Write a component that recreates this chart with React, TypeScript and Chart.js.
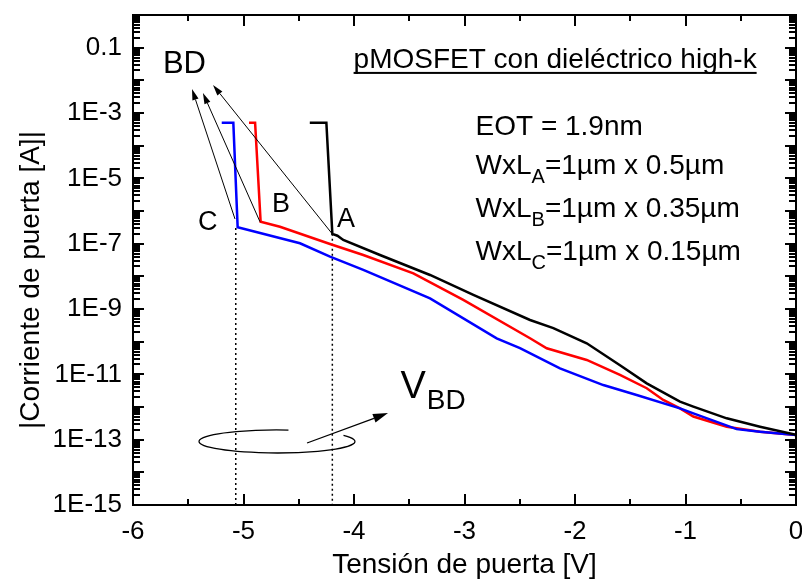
import { useEffect, useRef } from 'react';
import { Chart, registerables } from 'chart.js';

Chart.register(...registerables);

// ---- data (gate voltage [V], |gate current| [A]) ----
const blackV = [-4.40, -4.25, -4.196, -4.15, -4.097, -3.765, -3.312, -2.920, -2.407, -2.196, -1.894, -1.593, -1.351, -1.050, -0.929, -0.627, -0.326, 0];
const blackI = [5e-4, 5e-4, 2.0e-7, 1.75e-7, 1.3e-7, 4.5e-8, 1.1e-8, 2.7e-9, 4.6e-10, 2.6e-10, 8.9e-11, 1.9e-11, 5.3e-12, 1.46e-12, 1.03e-12, 4.5e-13, 2.5e-13, 1.4e-13];

const redV = [-4.95, -4.895, -4.845, -4.67, -4.217, -3.916, -3.463, -3.011, -2.407, -2.256, -1.894, -1.593, -1.351, -1.201, -1.050, -0.929, -0.627, -0.326, 0];
const redI = [5e-4, 5e-4, 4.7e-7, 3.3e-7, 9.8e-8, 4.5e-8, 1.24e-8, 1.9e-9, 1.27e-10, 6.3e-11, 2.75e-11, 9.6e-12, 3.75e-12, 1.64e-12, 9.1e-13, 5.1e-13, 2.5e-13, 1.76e-13, 1.4e-13];

const blueV = [-5.197, -5.092, -5.053, -4.489, -4.217, -3.916, -3.312, -2.709, -2.498, -2.136, -1.744, -1.442, -1.050, -0.929, -0.537, -0.326, 0];
const blueI = [5e-4, 5e-4, 3.2e-7, 1.03e-7, 4.0e-8, 1.57e-8, 2.1e-9, 1.27e-10, 6.3e-11, 1.53e-11, 4.7e-12, 2.34e-12, 9.1e-13, 6.4e-13, 2.1e-13, 1.76e-13, 1.4e-13];

// breakdown voltages (dotted markers)
const vbdV = [-5.07, -4.196];
const vbdI = [3.0e-7, 2.0e-7];

// axis ticks
const xTicks = [-6, -5, -4, -3, -2, -1, 0];
const xMinor = [-5.5, -4.5, -3.5, -2.5, -1.5, -0.5];
const yExps = [-15, -14, -13, -12, -11, -10, -9, -8, -7, -6, -5, -4, -3, -2, -1, 0];
const yMant = [1, 2, 3, 4, 5, 6, 7, 8, 9];

// annotation anchors (data coordinates)
const bdFromV = [-5.077, -4.851, -4.202];
const bdFromI = [5.7e-7, 4.7e-7, 2.1e-7];
const bdToV = [-5.466, -5.367, -5.276];
const bdToI = [5.4e-3, 4.1e-3, 7.2e-3];

const FONT = '"Liberation Sans", Arial, sans-serif';

const toXY = (v: number[], i: number[]) => v.map((x, k) => ({ x, y: i[k] }));

function yLabel(value: number) {
  const e = Math.round(Math.log10(value));
  if (e % 2 === 0) return '';
  if (e === -1) return '0.1';
  return '1E' + e;
}

function arrow(ctx: CanvasRenderingContext2D, x0: number, y0: number, x1: number, y1: number, L: number, W: number, lw: number) {
  const a = Math.atan2(y1 - y0, x1 - x0);
  const bx = x1 - L * Math.cos(a);
  const by = y1 - L * Math.sin(a);
  ctx.lineWidth = lw;
  ctx.beginPath();
  ctx.moveTo(x0, y0);
  ctx.lineTo(bx, by);
  ctx.stroke();
  ctx.beginPath();
  ctx.moveTo(x1, y1);
  ctx.lineTo(bx + W * Math.sin(a), by - W * Math.cos(a));
  ctx.lineTo(bx - W * Math.sin(a), by + W * Math.cos(a));
  ctx.closePath();
  ctx.fill();
}

function richText(ctx: CanvasRenderingContext2D, x: number, y: number, parts: [string, boolean][], size: number, subSize: number) {
  let cx = x;
  for (const [t, sub] of parts) {
    ctx.font = `${sub ? subSize : size}px ${FONT}`;
    ctx.fillText(t, cx, sub ? y + 9 : y);
    cx += ctx.measureText(t).width;
  }
}

const annotPlugin = {
  id: 'annot',
  afterDraw(chart: any) {
    const { ctx, chartArea: ca, scales } = chart;
    const px = (v: number) => scales.x.getPixelForValue(v);
    const py = (v: number) => scales.y.getPixelForValue(v);
    ctx.save();
    ctx.setLineDash([]);
    ctx.strokeStyle = '#000000';
    ctx.fillStyle = '#000000';

    // frame + inward tick marks
    const L0 = ca.left, R0 = ca.right, T0 = ca.top, B0 = ca.bottom;
    ctx.lineWidth = 2;
    ctx.beginPath();
    ctx.moveTo(L0, T0);
    ctx.lineTo(R0, T0);
    ctx.lineTo(R0, B0);
    ctx.lineTo(L0, B0);
    ctx.closePath();
    const xt: [number, number][] = [];
    xTicks.forEach((v) => xt.push([v, 11]));
    xMinor.forEach((v) => xt.push([v, 6]));
    for (const [v, len] of xt) {
      const x = Math.round(px(v));
      ctx.moveTo(x, B0);
      ctx.lineTo(x, B0 - len);
      ctx.moveTo(x, T0);
      ctx.lineTo(x, T0 + len);
    }
    for (const e of yExps) {
      for (const m of yMant) {
        const val = m * Math.pow(10, e);
        if (val > 1.0000001) break;
        const y = Math.round(py(val));
        const len = m === 1 ? 11 : 7;
        ctx.moveTo(L0, y);
        ctx.lineTo(L0 + len, y);
        ctx.moveTo(R0, y);
        ctx.lineTo(R0 - len, y);
      }
    }
    ctx.stroke();

    // BD arrows
    for (let k = 0; k < bdFromV.length; k++) {
      arrow(ctx, px(bdFromV[k]), py(bdFromI[k]), px(bdToV[k]), py(bdToI[k]), 11, 3.2, 1);
    }

    // ellipse around VBD
    const ex = px(-4.697), ey = py(8.8e-14);
    ctx.lineWidth = 1.3;
    ctx.beginPath();
    ctx.ellipse(ex, ey, 78, 11.5, 0, -0.55, 4.86);
    ctx.stroke();
    arrow(ctx, px(-4.425), py(7.9e-14), px(-3.692), py(6.5e-13), 15, 4.5, 1.3);

    // texts
    ctx.textAlign = 'left';
    ctx.textBaseline = 'alphabetic';
    ctx.font = `31px ${FONT}`;
    ctx.fillText('BD', px(-5.729), py(1.68e-2));
    ctx.font = `27px ${FONT}`;
    ctx.fillText('C', px(-5.412), py(2.6e-7));
    ctx.fillText('B', px(-4.742), py(9.3e-7));
    ctx.fillText('A', px(-4.154), py(3.2e-7));

    // VBD label
    const vx = px(-3.58), vy = py(1.9e-12);
    ctx.font = `38px ${FONT}`;
    ctx.fillText('V', vx, vy);
    const vw = ctx.measureText('V').width;
    ctx.font = `28px ${FONT}`;
    ctx.fillText('BD', vx + vw + 1, vy + 11);

    // title with underline
    ctx.font = `28px ${FONT}`;
    ctx.textAlign = 'center';
    const title = 'pMOSFET con dieléctrico high-k';
    const tx = px(-2.18), ty = py(2.4e-2);
    ctx.fillText(title, tx, ty);
    const tw = ctx.measureText(title).width;
    ctx.fillRect(tx - tw / 2, ty + 4, tw, 2);

    // parameter block
    ctx.textAlign = 'left';
    const lx = px(-2.9);
    richText(ctx, lx, py(2.1e-4), [['EOT = 1.9nm', false]], 28, 20);
    richText(ctx, lx, py(1.36e-5), [['WxL', false], ['A', true], ['=1µm x 0.5µm', false]], 28, 20);
    richText(ctx, lx, py(6.6e-7), [['WxL', false], ['B', true], ['=1µm x 0.35µm', false]], 28, 20);
    richText(ctx, lx, py(3.2e-8), [['WxL', false], ['C', true], ['=1µm x 0.15µm', false]], 28, 20);

    // axis titles
    ctx.font = `28px ${FONT}`;
    ctx.textAlign = 'center';
    ctx.fillText('Tensión de puerta [V]', (ca.left + ca.right) / 2, 573);
    ctx.save();
    ctx.translate(39, 280);
    ctx.rotate(-Math.PI / 2);
    ctx.fillText('|Corriente de puerta [A]|', 0, 0);
    ctx.restore();

    ctx.restore();
  },
};

export default function App() {
  const ref = useRef<HTMLCanvasElement>(null);
  useEffect(() => {
    const tickFont = { family: FONT, size: 26 };
    const chart = new Chart(ref.current as HTMLCanvasElement, {
      type: 'line',
      data: {
        datasets: [
          { data: toXY(blackV, blackI), borderColor: '#000000', borderWidth: 2.5, pointRadius: 0, tension: 0, fill: false },
          { data: toXY(blueV, blueI), borderColor: '#0000ff', borderWidth: 2.5, pointRadius: 0, tension: 0, fill: false },
          { data: toXY(redV, redI), borderColor: '#ff0000', borderWidth: 2.5, pointRadius: 0, tension: 0, fill: false },
          { data: [{ x: vbdV[0], y: vbdI[0] }, { x: vbdV[0], y: 1e-15 }], borderColor: '#000', borderWidth: 1.5, borderDash: [2, 3], pointRadius: 0, fill: false },
          { data: [{ x: vbdV[1], y: vbdI[1] }, { x: vbdV[1], y: 1e-15 }], borderColor: '#000', borderWidth: 1.5, borderDash: [2, 3], pointRadius: 0, fill: false },
        ],
      },
      options: {
        responsive: false,
        animation: false,
        layout: { padding: { top: 15, right: 6, left: 0, bottom: 0 } },
        plugins: { legend: { display: false }, tooltip: { enabled: false } },
        scales: {
          x: {
            type: 'linear',
            min: -6,
            max: 0,
            afterBuildTicks: (s: any) => { s.ticks = xTicks.map((v) => ({ value: v })); },
            ticks: { font: tickFont, color: '#000', padding: 11, autoSkip: false, maxRotation: 0 },
            grid: { display: false, drawTicks: false },
            border: { display: false },
            afterFit: (s: any) => { s.height = 74; s.paddingLeft = 0; s.paddingRight = 0; },
          },
          y: {
            type: 'logarithmic',
            min: 1e-15,
            max: 1,
            afterBuildTicks: (s: any) => { s.ticks = yExps.map((e) => ({ value: Number('1e' + e) })); },
            ticks: { font: tickFont, color: '#000', padding: 11, autoSkip: false, callback: (v: any) => yLabel(Number(v)) },
            grid: { display: false, drawTicks: false },
            border: { display: false },
            afterFit: (s: any) => { s.width = 133; s.paddingTop = 0; s.paddingBottom = 0; },
          },
        },
      },
      plugins: [annotPlugin],
    } as any);
    return () => chart.destroy();
  }, []);
  return (
    <div style={{ position: 'absolute', left: 0, top: 0, width: 802, height: 579, background: '#fff' }}>
      <canvas ref={ref} width={802} height={579} style={{ display: 'block' }} />
    </div>
  );
}
